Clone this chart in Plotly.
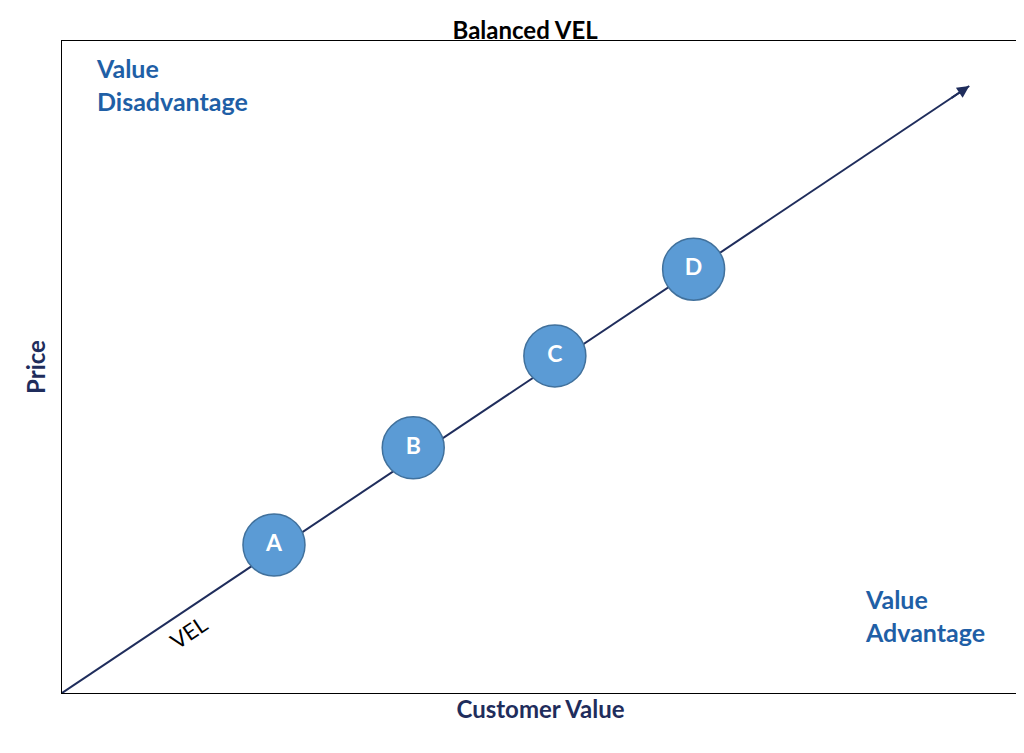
import plotly.graph_objects as go

# products on the value equivalence line
labels = ["A", "B", "C", "D"]
cust_value = [0.2215, 0.367, 0.515, 0.660]
price = [0.227, 0.376, 0.517, 0.650]

# VEL arrow start / end
vel_x = [0.0, 0.948]
vel_y = [0.0, 0.931]

navy = "#1f2d5c"
blue = "#1f5fa6"
font = "Lato"

fig = go.Figure()

fig.add_trace(go.Scatter(
	x=vel_x, y=vel_y, mode="lines",
	line=dict(color=navy, width=2), hoverinfo="skip", showlegend=False))

fig.add_annotation(
	x=vel_x[1], y=vel_y[1], ax=vel_x[1] - 0.02, ay=vel_y[1] - 0.0197,
	xref="x", yref="y", axref="x", ayref="y",
	text="", showarrow=True, arrowhead=2, arrowsize=1.2, arrowwidth=2, arrowcolor=navy)

fig.add_trace(go.Scatter(
	x=cust_value, y=price, mode="markers+text", text=labels,
	textposition="middle center",
	textfont=dict(family=font, size=23, color="white", weight="bold"),
	marker=dict(size=62, color="#5b9bd5", line=dict(color="#41719c", width=1.5)),
	hoverinfo="skip", showlegend=False))

fig.add_annotation(x=0.033, y=0.985, xref="paper", yref="paper", xanchor="left", yanchor="top",
	text="Value<br>Disadvantage", showarrow=False, align="left",
	font=dict(family=font, size=25, color=blue, weight="bold"))
fig.add_annotation(x=0.837, y=0.17, xref="paper", yref="paper", xanchor="left", yanchor="top",
	text="Value<br>Advantage", showarrow=False, align="left",
	font=dict(family=font, size=25, color=blue, weight="bold"))
fig.add_annotation(x=0.104, y=0.055, xref="paper", yref="paper",
	text="VEL", showarrow=False, textangle=-34,
	font=dict(family=font, size=22, color="black"))

fig.update_layout(
	width=1024, height=753,
	margin=dict(l=54, r=13, t=33, b=68),
	paper_bgcolor="white", plot_bgcolor="white",
	title=dict(text="Balanced VEL", x=0.505, xanchor="center", y=0.97, yanchor="middle",
		font=dict(family=font, size=24, color="black", weight="bold")),
	xaxis=dict(range=[0, 1], showgrid=False, zeroline=False, showticklabels=False, ticks="",
		showline=True, mirror=True, linecolor="black", linewidth=1,
		title=dict(text="Customer Value", standoff=8,
			font=dict(family=font, size=24, color=navy, weight="bold"))),
	yaxis=dict(range=[0, 1], showgrid=False, zeroline=False, showticklabels=False, ticks="",
		showline=True, mirror=True, linecolor="black", linewidth=1,
		title=dict(text="Price", standoff=8,
			font=dict(family=font, size=24, color=navy, weight="bold"))),
)

fig.write_html("out.html")
